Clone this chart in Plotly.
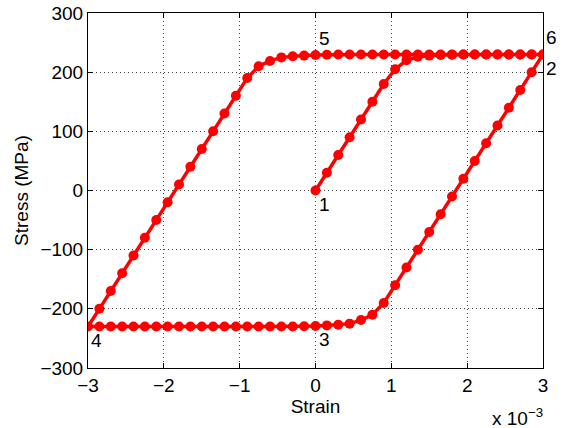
import plotly.graph_objects as go

# Strain values (x 10^-3) and stress values (MPa)
strain = [
    0.0, 0.15, 0.3, 0.45, 0.6, 0.75, 0.9, 1.05, 1.2, 1.35, 1.5, 1.65, 1.8, 1.95, 2.1, 2.25, 2.4, 2.55, 2.7, 2.85, 3.0,
    2.85, 2.7, 2.55, 2.4, 2.25, 2.1, 1.95, 1.8, 1.65, 1.5, 1.35, 1.2, 1.05, 0.9, 0.75, 0.6, 0.45, 0.3, 0.15, 0.0,
    -0.15, -0.3, -0.45, -0.6, -0.75, -0.9, -1.05, -1.2, -1.35, -1.5, -1.65, -1.8, -1.95, -2.1, -2.25, -2.4, -2.55, -2.7, -2.85, -3.0,
    -2.85, -2.7, -2.55, -2.4, -2.25, -2.1, -1.95, -1.8, -1.65, -1.5, -1.35, -1.2, -1.05, -0.9, -0.75, -0.6, -0.45, -0.3, -0.15, 0.0,
    0.15, 0.3, 0.45, 0.6, 0.75, 0.9, 1.05, 1.2, 1.35, 1.5, 1.65, 1.8, 1.95, 2.1, 2.25, 2.4, 2.55, 2.7, 2.85, 3.0,
]
stress = [
    0, 30, 60, 90, 120, 150, 180, 205, 220, 226, 228, 229, 229.5, 230, 230, 230, 230, 230, 230, 230, 230,
    200, 170, 140, 110, 80, 50, 20, -10, -40, -70, -100, -130, -160, -190, -210, -219, -225, -227, -228, -229,
    -229.5, -230, -230, -230, -230, -230, -230, -230, -230, -230, -230, -230, -230, -230, -230, -230, -230, -230, -230, -230,
    -200, -170, -140, -110, -80, -50, -20, 10, 40, 70, 100, 130, 160, 190, 210, 219, 225, 227, 228, 229,
    229.5, 230, 230, 230, 230, 230, 230, 230, 230, 230, 230, 230, 230, 230, 230, 230, 230, 230, 230, 230,
]

# Point labels: index into the data arrays
label_text = ["1", "2", "3", "4", "5", "6"]
label_index = [0, 20, 40, 60, 80, 100]
label_below = [True, True, True, True, False, False]

x_ticks = [-3, -2, -1, 0, 1, 2, 3]
y_ticks = [-300, -200, -100, 0, 100, 200, 300]

FONT = "Liberation Sans, Arial, Helvetica, sans-serif"
FS = 19

fig = go.Figure()
fig.add_trace(go.Scatter(
    x=strain, y=stress, mode="lines+markers",
    line=dict(color="#ff0000", width=3.5),
    marker=dict(color="#ff0000", size=10, line=dict(width=0)),
    showlegend=False, hoverinfo="skip",
))

for t, i, below in zip(label_text, label_index, label_below):
    fig.add_annotation(
        x=strain[i], y=stress[i], xref="x", yref="y", text=t, showarrow=False,
        xanchor="left", yanchor="middle",
        xshift=1, yshift=-14 if below else 17,
        font=dict(family=FONT, size=FS, color="black"),
    )

fig.add_annotation(
    x=1.0, y=0, xref="paper", yref="paper", xanchor="right", yanchor="top",
    yshift=-35, xshift=2, text="x 10<sup>−3</sup>", showarrow=False,
    font=dict(family=FONT, size=FS, color="black"),
)

axis_common = dict(
    showline=True, linecolor="black", linewidth=1, mirror="ticks",
    ticks="inside", ticklen=5, tickcolor="black", tickwidth=1,
    showgrid=True, gridcolor="#444444", gridwidth=1, griddash="1px,3px",
    zeroline=False, tickfont=dict(family=FONT, size=FS, color="black"),
    automargin=False,
)

fig.update_xaxes(
    range=[-3, 3], tickvals=x_ticks, ticktext=[str(v).replace("-", "−") for v in x_ticks],
    title=dict(text="Strain", font=dict(family=FONT, size=FS, color="black"), standoff=2),
    **axis_common,
)
fig.update_yaxes(
    range=[-300, 300], tickvals=y_ticks, ticktext=[str(v).replace("-", "−") for v in y_ticks],
    title=dict(text="Stress (MPa)", font=dict(family=FONT, size=FS, color="black"), standoff=6),
    **axis_common,
)

fig.update_layout(
    width=566, height=428,
    margin=dict(l=88, r=23, t=13, b=60),
    paper_bgcolor="white", plot_bgcolor="white",
)

fig.write_html("out.html")
